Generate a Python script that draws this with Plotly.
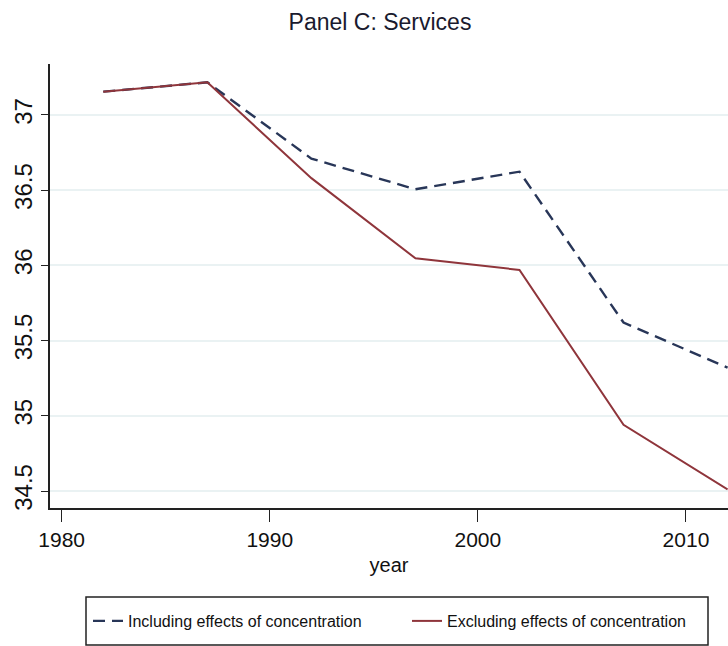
import plotly.graph_objects as go

years = [1982, 1987, 1992, 1997, 2002, 2007, 2012]
including = [37.155, 37.217, 36.71, 36.506, 36.623, 35.62, 35.32]
excluding = [37.155, 37.217, 36.58, 36.047, 35.97, 34.94, 34.51]

y_ticks = [34.5, 35, 35.5, 36, 36.5, 37]
y_tick_text = ["34.5", "35", "35.5", "36", "36.5", "37"]
x_ticks = [1980, 1990, 2000, 2010]

FONT = "Liberation Sans, Arial, sans-serif"

# plot area in pixels: x 50..728, y 64..508
def px_x(p):
    return (p - 50) / 678

def px_y(p):
    return (508 - p) / 444

fig = go.Figure()
fig.add_trace(go.Scatter(
    x=years, y=including, mode="lines",
    name="Including effects of concentration",
    line=dict(color="#283658", width=2.4, dash="12px,7px"),
))
fig.add_trace(go.Scatter(
    x=years, y=excluding, mode="lines",
    name="Excluding effects of concentration",
    line=dict(color="#8f353b", width=2),
))

fig.update_layout(
    width=728, height=646,
    margin=dict(l=50, r=0, t=64, b=138, autoexpand=False),
    plot_bgcolor="white", paper_bgcolor="white",
    title=dict(text="Panel C: Services", x=380/728, xref="container", xanchor="center",
               y=1 - 22/646, yref="container", yanchor="middle",
               font=dict(family=FONT, size=23, color="#1a1a2e")),
    xaxis=dict(
        range=[1979.44, 2012.02], tickvals=x_ticks, ticks="outside", ticklen=12,
        tickwidth=1.2, tickcolor="#222", showline=True, linecolor="#222", linewidth=1.5,
        showgrid=False, zeroline=False, automargin=False,
        tickfont=dict(family=FONT, size=21, color="#111"),
        title=dict(text="year", font=dict(family=FONT, size=20, color="#111"), standoff=8),
    ),
    yaxis=dict(
        range=[34.387, 37.339], tickvals=y_ticks, ticktext=y_tick_text, tickangle=-90,
        ticks="outside", ticklen=7, tickwidth=1.2, tickcolor="#222",
        showline=True, linecolor="#222", linewidth=1.5, automargin=False,
        showgrid=True, gridcolor="#eaf2f3", gridwidth=1.5, zeroline=False,
        tickfont=dict(family=FONT, size=24, color="#111"),
    ),
    legend=dict(
        orientation="h", x=px_x(88), xanchor="left",
        y=px_y(621), yanchor="middle",
        borderwidth=0, bgcolor="rgba(0,0,0,0)",
        font=dict(family=FONT, size=16, color="#111"),
        entrywidth=274, tracegroupgap=0,
    ),
    shapes=[dict(
        type="rect", xref="paper", yref="paper",
        x0=px_x(86), x1=px_x(708), y0=px_y(645), y1=px_y(597),
        line=dict(color="#222", width=1.5), fillcolor="rgba(0,0,0,0)", layer="below",
    )],
)

fig.write_html("out.html")
